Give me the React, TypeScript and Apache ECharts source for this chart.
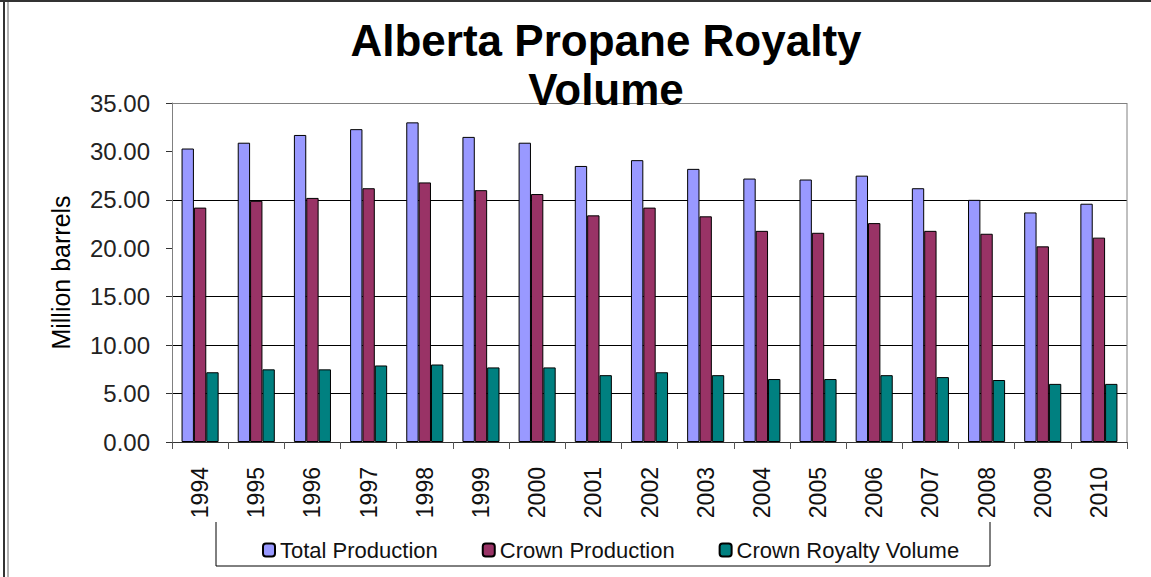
import React, { useEffect, useRef } from "react";
import * as echarts from "echarts";

const years = ["1994","1995","1996","1997","1998","1999","2000","2001","2002","2003","2004","2005","2006","2007","2008","2009","2010"];
const totalProduction = [30.3, 30.9, 31.7, 32.3, 33.0, 31.5, 30.9, 28.5, 29.1, 28.2, 27.2, 27.1, 27.5, 26.2, 25.0, 23.7, 24.6];
const crownProduction = [24.2, 24.9, 25.2, 26.2, 26.8, 26.0, 25.6, 23.4, 24.2, 23.3, 21.8, 21.6, 22.6, 21.8, 21.5, 20.2, 21.1];
const crownRoyalty = [7.2, 7.5, 7.5, 7.9, 8.0, 7.7, 7.7, 6.9, 7.2, 6.9, 6.5, 6.5, 6.9, 6.7, 6.4, 6.0, 6.0];
const seriesNames = ["Total Production", "Crown Production", "Crown Royalty Volume"];
const titleLines = ["Alberta Propane Royalty", "Volume"];
const yAxisName = "Million barrels";

const FONT = "'Liberation Sans', Arial, sans-serif";

export default function App() {
  const ref = useRef<HTMLDivElement>(null);
  useEffect(() => {
    if (!ref.current) return;
    const chart = echarts.init(ref.current, null, { renderer: "svg" });
    const mk = (name: string, data: number[], color: string) => ({
      name,
      type: "bar",
      data,
      barGap: "0%",
      barCategoryGap: "34%",
      itemStyle: { color, borderColor: "#000", borderWidth: 1 },
    });
    chart.setOption({
      animation: false,
      backgroundColor: "#fff",
      textStyle: { fontFamily: FONT },
      grid: { left: 172, right: 24, top: 103, bottom: 135, show: false },
      legend: {
        left: 257,
        top: 534,
        itemWidth: 12,
        itemHeight: 13,
        itemGap: 44,
        textStyle: { fontSize: 22, color: "#111", fontFamily: FONT },
        data: seriesNames,
      },
      xAxis: {
        type: "category",
        data: years,
        axisLine: { lineStyle: { color: "#333", width: 1 } },
        axisTick: { show: true, length: 7, lineStyle: { color: "#555" } },
        axisLabel: { rotate: 90, interval: 0, fontSize: 23, color: "#111", margin: 25, fontFamily: FONT },
        splitLine: { show: false },
      },
      yAxis: {
        type: "value",
        min: 0,
        max: 35,
        interval: 5,
        name: yAxisName,
        nameLocation: "middle",
        nameRotate: 90,
        nameGap: 99,
        nameTextStyle: { fontSize: 25, color: "#000", fontFamily: FONT },
        axisLine: { show: true, lineStyle: { color: "#808080", width: 1 } },
        axisTick: { show: true, length: 6, lineStyle: { color: "#333" } },
        axisLabel: { fontSize: 24, color: "#222", margin: 22, fontFamily: FONT, formatter: (v: number) => v.toFixed(2) },
        splitLine: {
          show: true,
          lineStyle: {
            color: ["#000", "#000", "#000", "#000", "rgba(0,0,0,0)", "#000", "rgba(0,0,0,0)", "#808080"],
            width: 1,
          },
        },
      },
      series: [
        mk(seriesNames[0], totalProduction, "#9999FF"),
        mk(seriesNames[1], crownProduction, "#993366"),
        mk(seriesNames[2], crownRoyalty, "#008080"),
      ],
      graphic: [
        { type: "line", shape: { x1: 1127, y1: 103, x2: 1127, y2: 442 }, style: { stroke: "#808080", lineWidth: 1 }, z: 1 },
        { type: "polyline", shape: { points: [[216, 522], [216, 566], [990, 566], [990, 522]] }, style: { stroke: "#000", lineWidth: 1, fill: null }, z: 0 },
        { type: "line", shape: { x1: 4, y1: 0, x2: 4, y2: 577 }, style: { stroke: "#333", lineWidth: 2 } },
        { type: "line", shape: { x1: 8, y1: 0, x2: 8, y2: 577 }, style: { stroke: "#666", lineWidth: 1 } },
        { type: "line", shape: { x1: 0, y1: 1, x2: 1151, y2: 1 }, style: { stroke: "#333", lineWidth: 2 } },
        {
          type: "text",
          x: 606,
          y: 16,
          z: 10,
          style: {
            text: titleLines.join("\n"),
            font: `bold 44px ${FONT}`,
            fill: "#000",
            textAlign: "center",
            textVerticalAlign: "top",
            lineHeight: 49,
          },
        },
      ],
    });
    return () => chart.dispose();
  }, []);
  return <div ref={ref} style={{ position: "absolute", left: 0, top: 0, width: 1151, height: 577 }} />;
}
